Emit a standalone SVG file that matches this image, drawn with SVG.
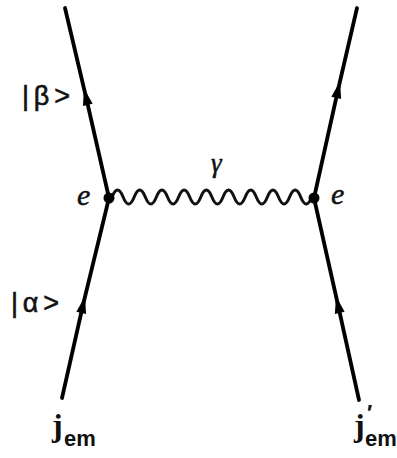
<svg xmlns="http://www.w3.org/2000/svg" width="397" height="458" viewBox="0 0 397 458">
<style>
.f{fill:none;stroke:#000;stroke-width:3.8;stroke-linecap:round;stroke-linejoin:round}
.w{fill:none;stroke:#111;stroke-width:3;stroke-linecap:round}
.lbl{font-family:"Liberation Sans",Arial,sans-serif;font-size:27px;fill:#111;stroke:#111;stroke-width:0.6}
.it{font-family:"Liberation Serif","Times New Roman",serif;font-style:italic;fill:#111;stroke:#111;stroke-width:0.5}
.j{font-family:"Liberation Serif","Times New Roman",serif;font-weight:bold;font-size:32px;fill:#111}
.sub{font-family:"Liberation Sans",Arial,sans-serif;font-weight:bold;font-size:22px;fill:#111}
</style>
<defs>
<marker id="arr" viewBox="-9 -6 18 12" markerWidth="18" markerHeight="12" markerUnits="userSpaceOnUse" orient="auto" refX="0" refY="0">
<path d="M-8,-5 L9,0 L-8,5 z" fill="#000"/>
</marker>
</defs>
<rect width="397" height="458" fill="#fff"/>
<g id="connectors">
<path id="left-in" class="f" d="M62,398 L83,305 L109,198" marker-mid="url(#arr)"/>
<path id="left-out" class="f" d="M109,198 L86,97 L65,8" marker-mid="url(#arr)"/>
<path id="right-in" class="f" d="M359,400 L338,305 L314,198" marker-mid="url(#arr)"/>
<path id="right-out" class="f" d="M314,198 L338,90 L357,8" marker-mid="url(#arr)"/>
<path id="photon" class="w" d="M112,197 q5.55,-14 11.1,0 t11.1,0 t11.1,0 t11.1,0 t11.1,0 t11.1,0 t11.1,0 t11.1,0 t11.1,0 t11.1,0 t11.1,0 t11.1,0 t11.1,0 t11.1,0 t11.1,0 t11.1,0 t11.1,0 t11.1,0"/>
</g>
<g id="vertex-left">
<circle cx="109" cy="198" r="5.5" fill="#000"/>
<text class="it" x="77" y="205" font-size="30">e</text>
</g>
<g id="vertex-right">
<circle cx="314" cy="198" r="5.5" fill="#000"/>
<text class="it" x="331" y="204" font-size="30">e</text>
</g>
<g id="photon-label">
<text class="it" x="211" y="172" font-size="27">γ</text>
</g>
<g id="state-beta">
<text class="lbl" x="22" y="105" textLength="48" lengthAdjust="spacing">|β&gt;</text>
</g>
<g id="state-alpha">
<text class="lbl" x="11" y="312" textLength="48" lengthAdjust="spacing">|α&gt;</text>
</g>
<g id="current-left">
<text class="j" x="52" y="436">j<tspan class="sub" x="64" y="446">em</tspan></text>
</g>
<g id="current-right">
<text class="j" x="354" y="436">j<tspan class="sub" x="367" y="420" font-size="16">′</tspan><tspan class="sub" x="365" y="446">em</tspan></text>
</g>
</svg>
